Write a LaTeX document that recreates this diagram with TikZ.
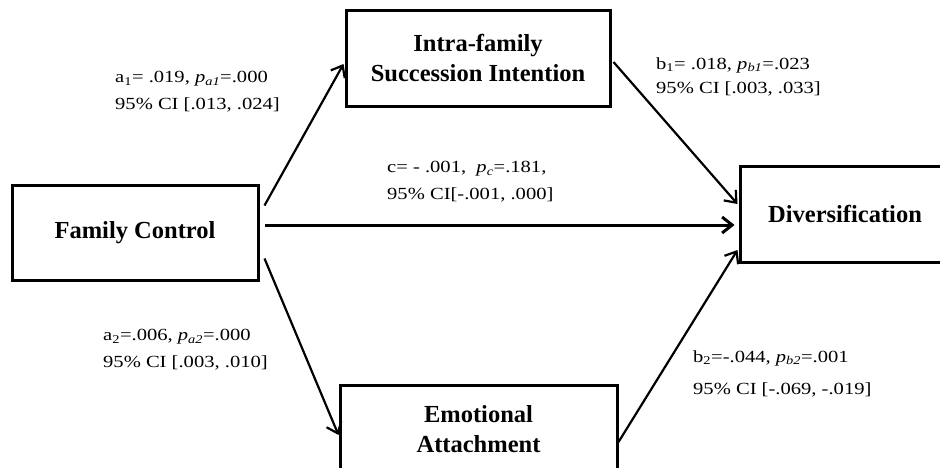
\documentclass[tikz,border=0pt]{standalone}
\usepackage{fontspec}
\setmainfont{Liberation Serif}
\newfontfamily\labelFont[FakeStretch=1.21]{Liberation Serif}
\usepackage{tikz}
\usetikzlibrary{arrows.meta}
\tikzstyle{diagram} = [x = 1pt, y = -1pt]
\tikzstyle{constructBox} = [draw, line width = 3pt, align = center, inner sep = 0pt, font = \bfseries\fontsize{24.5}{30}\selectfont]
\tikzstyle{pathArrow} = [line width = 2.2pt, -{Straight Barb[length = 10pt, width = 16pt]}]
\tikzstyle{directArrow} = [pathArrow, line width = 3pt]
\tikzstyle{pathLabel} = [anchor = north west, align = left, inner sep = 0pt, font = \labelFont\fontsize{17}{27}\selectfont]
\newcommand{\constructNode}[6]{\node [constructBox, minimum width = #4pt, minimum height = #5pt] (#1) at (#2, #3) {#6};}
\newcommand{\pathLabelNode}[4]{\node [pathLabel] (#1) at (#2, #3) {#4};}
\newcommand{\pSub}[1]{\textit{p}\textsubscript{\textit{#1}}}

\begin{document}
\begin{tikzpicture}[diagram]
  \clip (0, 0) rectangle (940, 467);
  \fill [white] (0, 0) rectangle (940, 467);

  \constructNode{famCtrl}{135}{232.5}{246}{95}{Family Control}
  \constructNode{intraSucc}{478}{58}{264}{96}{Intra-family\\Succession Intention}
  \constructNode{diversif}{845}{214}{210}{96}{Diversification}
  \constructNode{emoAttach}{478.5}{429}{277}{88}{Emotional\\Attachment}

  \draw [pathArrow] ([shift={(5,-27)}]famCtrl.east) -- ([shift={(-1,6)}]intraSucc.west);
  \draw [directArrow] ([shift={(5,-7.5)}]famCtrl.east) -- ([shift={(-4,11)}]diversif.west);
  \draw [pathArrow] ([shift={(5,26)}]famCtrl.east) -- ([shift={(0,6)}]emoAttach.west);
  \draw [pathArrow] ([shift={(2,4)}]intraSucc.east) -- ([shift={(-1,-10)}]diversif.west);
  \draw [pathArrow] ([shift={(0,13)}]emoAttach.east) -- ([shift={(-1,36)}]diversif.west);

  \pathLabelNode{labelAOne}{115}{71}{a\textsubscript{1}= .019, \pSub{a1}=.000\\95\% CI [.013, .024]}
  \pathLabelNode{labelBOne}{656}{57}{b\textsubscript{1}= .018, \pSub{b1}=.023\\[-3pt]95\% CI [.003, .033]}
  \pathLabelNode{labelC}{387}{161}{c= - .001,\ \ \pSub{c}=.181,\\95\% CI[-.001, .000]}
  \pathLabelNode{labelATwo}{103}{329}{a\textsubscript{2}=.006, \pSub{a2}=.000\\95\% CI [.003, .010]}
  \pathLabelNode{labelBTwo}{693}{350}{b\textsubscript{2}=-.044, \pSub{b2}=.001\\[5pt]95\% CI [-.069, -.019]}
\end{tikzpicture}
\end{document}
